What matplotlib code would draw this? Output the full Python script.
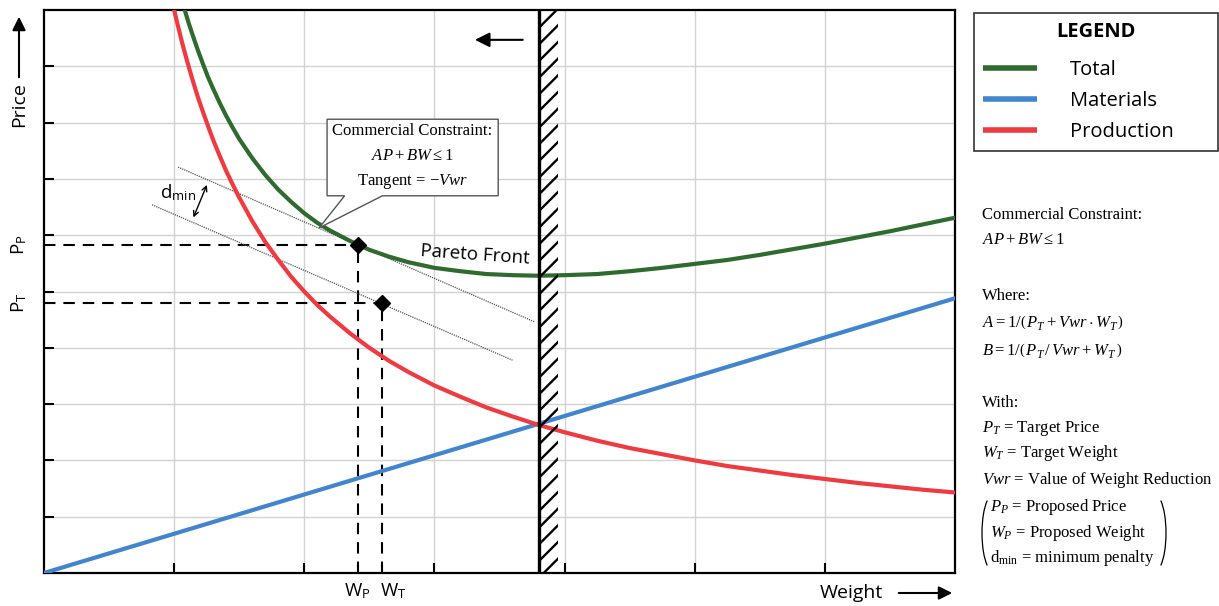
import matplotlib
matplotlib.use('Agg')
import matplotlib.pyplot as plt
from matplotlib.patches import Polygon, Arc

plt.rcParams['font.family'] = ['Open Sans', 'DejaVu Sans']
plt.rcParams['mathtext.fontset'] = 'custom'
plt.rcParams['mathtext.rm'] = 'Liberation Serif'
plt.rcParams['mathtext.it'] = 'Liberation Serif:italic'
plt.rcParams['mathtext.bf'] = 'Liberation Serif:bold'
plt.rcParams['mathtext.sf'] = 'Open Sans'
plt.rcParams['hatch.linewidth'] = 1.7

# Production cost curve (red)
prod_w = [0.98, 1.0, 1.03, 1.06, 1.1, 1.14, 1.18, 1.22, 1.26, 1.3, 1.35, 1.4, 1.45, 1.5, 1.6,
          1.7, 1.8, 1.9, 2.0, 2.1, 2.2, 2.35, 2.5, 2.65, 2.8, 3.0, 3.2, 3.4, 3.6, 3.8, 4.0,
          4.25, 4.5, 4.75, 5.0, 5.25, 5.5, 5.75, 6.0, 6.25, 6.5, 6.75, 7.0]
prod_p = [10.2, 10.0, 9.71, 9.43, 9.09, 8.77, 8.47, 8.20, 7.94, 7.69, 7.41, 7.14, 6.90, 6.67, 6.25,
          5.88, 5.56, 5.26, 5.00, 4.76, 4.55, 4.26, 4.00, 3.77, 3.57, 3.33, 3.13, 2.94, 2.78, 2.63, 2.50,
          2.35, 2.22, 2.11, 2.00, 1.90, 1.82, 1.74, 1.67, 1.60, 1.54, 1.48, 1.43]

# Materials cost (blue), straight line
mat_w = [0.0, 7.0]
mat_p = [0.0, 4.88]

# Total cost (green) = pareto front
total_w = [1.05, 1.08, 1.11, 1.14, 1.18, 1.22, 1.26, 1.3, 1.35, 1.4, 1.45, 1.5, 1.6, 1.7, 1.8,
           1.9, 2.0, 2.1, 2.2, 2.35, 2.5, 2.65, 2.8, 3.0, 3.2, 3.4, 3.6, 3.8, 4.0, 4.25, 4.5,
           4.75, 5.0, 5.25, 5.5, 5.75, 6.0, 6.25, 6.5, 6.75, 7.0]
total_p = [10.25, 10.01, 9.78, 9.57, 9.30, 9.05, 8.81, 8.60, 8.35, 8.12, 7.91, 7.71, 7.37, 7.07, 6.81,
           6.59, 6.39, 6.22, 6.08, 5.90, 5.74, 5.62, 5.52, 5.42, 5.36, 5.31, 5.29, 5.28, 5.29, 5.31, 5.36,
           5.42, 5.49, 5.56, 5.65, 5.75, 5.85, 5.96, 6.07, 6.19, 6.31]

# proposed / target points
wp, pp = 2.41, 5.83
wt, pt = 2.60, 4.80
wall_w = 3.80

# tangent lines (commercial constraint)
tan_w = [1.03, 3.77]
tan_p = [7.21, 4.46]
off_w = [0.83, 3.60]
off_p = [6.54, 3.78]

green = '#2f6b2f'
blue = '#4285cf'
red = '#ee3a40'

W, H = 1219, 606
fig = plt.figure(figsize=(W / 100, H / 100), dpi=100)
ax = fig.add_axes([44 / W, 33 / H, 911 / W, 563 / H])
ax.set_xlim(0, 7)
ax.set_ylim(0, 10)
ax.set_xticks(range(1, 7))
ax.set_yticks(range(1, 10))
ax.tick_params(direction='in', length=7, width=1.5, labelbottom=False, labelleft=False)
ax.grid(color='#d2d2d2', lw=1)
for s in ax.spines.values():
    s.set_linewidth(1.6)

# dashed guides
dash = (0, (5.5, 3.8))
ax.plot([0, wp], [pp, pp], color='black', lw=1.5, ls=dash, zorder=2)
ax.plot([wp, wp], [0, pp], color='black', lw=1.5, ls=dash, zorder=2)
ax.plot([0, wt], [pt, pt], color='black', lw=1.5, ls=dash, zorder=2)
ax.plot([wt, wt], [0, pt], color='black', lw=1.5, ls=dash, zorder=2)

# tangent lines
ax.plot(tan_w, tan_p, color='#555555', lw=0.9, ls=(0, (1, 0.8)), zorder=2)
ax.plot(off_w, off_p, color='#555555', lw=0.9, ls=(0, (1, 0.8)), zorder=2)

l_tot, = ax.plot(total_w, total_p, color=green, lw=3, label='Total', zorder=3)
l_mat, = ax.plot(mat_w, mat_p, color=blue, lw=3, label='Materials', zorder=3)
l_prod, = ax.plot(prod_w, prod_p, color=red, lw=3, label='Production', zorder=3)

ax.plot([wp, wt], [pp, pt], 'D', color='black', ms=8, ls='none', zorder=5)

# constraint wall
ax.axvspan(wall_w, wall_w + 0.15, facecolor='none', edgecolor='black', hatch='//', lw=0, zorder=4)
ax.axvline(wall_w, color='black', lw=2.4, zorder=4)
ax.annotate('', xy=(3.29, 9.47), xytext=(3.70, 9.47),
            arrowprops=dict(arrowstyle='-|>', color='black', lw=1.5, mutation_scale=22))

ax.text(3.31, 5.65, 'Pareto Front', rotation=-4, ha='center', va='center', fontsize=13.5, zorder=6)

# callout box
box = Polygon([(2.175, 8.06), (3.49, 8.06), (3.49, 6.70), (2.60, 6.70),
               (2.114, 6.13), (2.31, 6.70), (2.175, 6.70)],
              closed=True, facecolor='white', edgecolor='#555555', lw=1, zorder=6)
ax.add_patch(box)
serif = 'Liberation Serif'
ax.text(2.83, 7.85, 'Commercial Constraint:', family=serif, fontsize=12, ha='center', va='center', zorder=7)
ax.text(2.83, 7.40, r'$AP + BW \leq 1$', family=serif, fontsize=12, ha='center', va='center', zorder=7)
ax.text(2.83, 6.96, r'Tangent = $-Vwr$', family=serif, fontsize=12, ha='center', va='center', zorder=7)

# d_min
ax.annotate('', xy=(1.26, 6.94), xytext=(1.14, 6.27),
            arrowprops=dict(arrowstyle='<->', color='black', lw=1, mutation_scale=9))
ax.text(1.03, 6.75, r'd$_\mathsf{min}$', ha='center', va='center', fontsize=13.5)

# tick labels for points
ax.text(wp, -0.32, r'W$_\mathsf{P}$', ha='center', va='center', fontsize=13.5, clip_on=False)
ax.text(wt + 0.08, -0.32, r'W$_\mathsf{T}$', ha='center', va='center', fontsize=13.5, clip_on=False)
ax.text(-0.19, pp, r'P$_\mathsf{P}$', ha='center', va='center', fontsize=13.5, rotation=90, clip_on=False)
ax.text(-0.19, pt, r'P$_\mathsf{T}$', ha='center', va='center', fontsize=13.5, rotation=90, clip_on=False)

# legend
leg = ax.legend(handles=[l_tot, l_mat, l_prod], loc='upper left',
                bbox_to_anchor=(974 / W, 1 - 13 / H - 0.01, 244 / W, 0.01), bbox_transform=fig.transFigure,
                mode='expand', title='LEGEND', fontsize=14.5,
                title_fontproperties={'weight': 'bold', 'size': 14.5},
                handlelength=2.7, handletextpad=1.6, borderpad=0.45, labelspacing=0.55,
                borderaxespad=0, fancybox=False, framealpha=1, edgecolor='#333333')
leg.get_frame().set_linewidth(1.2)
leg._legend_box.sep = 13  # a bit more room under the title
for h in leg.legend_handles:
    h.set_linewidth(4)
    h.set_solid_capstyle('butt')

# overlay in pixel coords for outside text
ov = fig.add_axes([0, 0, 1, 1])
ov.set_xlim(0, W)
ov.set_ylim(H, 0)
ov.axis('off')
ov.patch.set_visible(False)

ov.text(19, 105, 'Price', rotation=90, ha='center', va='center', fontsize=14)
ov.annotate('', xy=(19, 14), xytext=(19, 80),
            arrowprops=dict(arrowstyle='-|>', color='black', lw=1.5, mutation_scale=20))
ov.text(851, 593, 'Weight', ha='center', va='center', fontsize=14)
ov.annotate('', xy=(955, 593), xytext=(896, 593),
            arrowprops=dict(arrowstyle='-|>', color='black', lw=1.5, mutation_scale=20))

fs = 12
x0 = 982
ov.text(x0, 215, 'Commercial Constraint:', family=serif, fontsize=fs, va='center')
ov.text(x0, 240, r'$AP + BW \leq 1$', family=serif, fontsize=fs, va='center')
ov.text(x0, 296, 'Where:', family=serif, fontsize=fs, va='center')
ov.text(x0, 322, r'$A = 1/\left(\,P_T + Vwr \cdot W_T\,\right)$', family=serif, fontsize=fs, va='center')
ov.text(x0, 350, r'$B = 1/\left(\,P_T\,/\,Vwr + W_T\,\right)$', family=serif, fontsize=fs, va='center')
ov.text(x0, 403, 'With:', family=serif, fontsize=fs, va='center')
ov.text(x0, 428, r'$P_T$ = Target Price', family=serif, fontsize=fs, va='center')
ov.text(x0, 453, r'$W_T$ = Target Weight', family=serif, fontsize=fs, va='center')
ov.text(x0, 480, r'$Vwr$ = Value of Weight Reduction', family=serif, fontsize=fs, va='center')
ov.text(x0 + 8, 507, r'$P_P$ = Proposed Price', family=serif, fontsize=fs, va='center')
ov.text(x0 + 8, 533, r'$W_P$ = Proposed Weight', family=serif, fontsize=fs, va='center')
ov.text(x0 + 8, 558, r'd$_{\mathrm{min}}$ = minimum penalty', family=serif, fontsize=fs, va='center')
ov.add_patch(Arc((993, 533), 22, 76, theta1=100, theta2=260, color='black', lw=0.9))
ov.add_patch(Arc((1155, 533), 22, 76, theta1=-80, theta2=80, color='black', lw=0.9))

fig.savefig('out.png', dpi=100)
